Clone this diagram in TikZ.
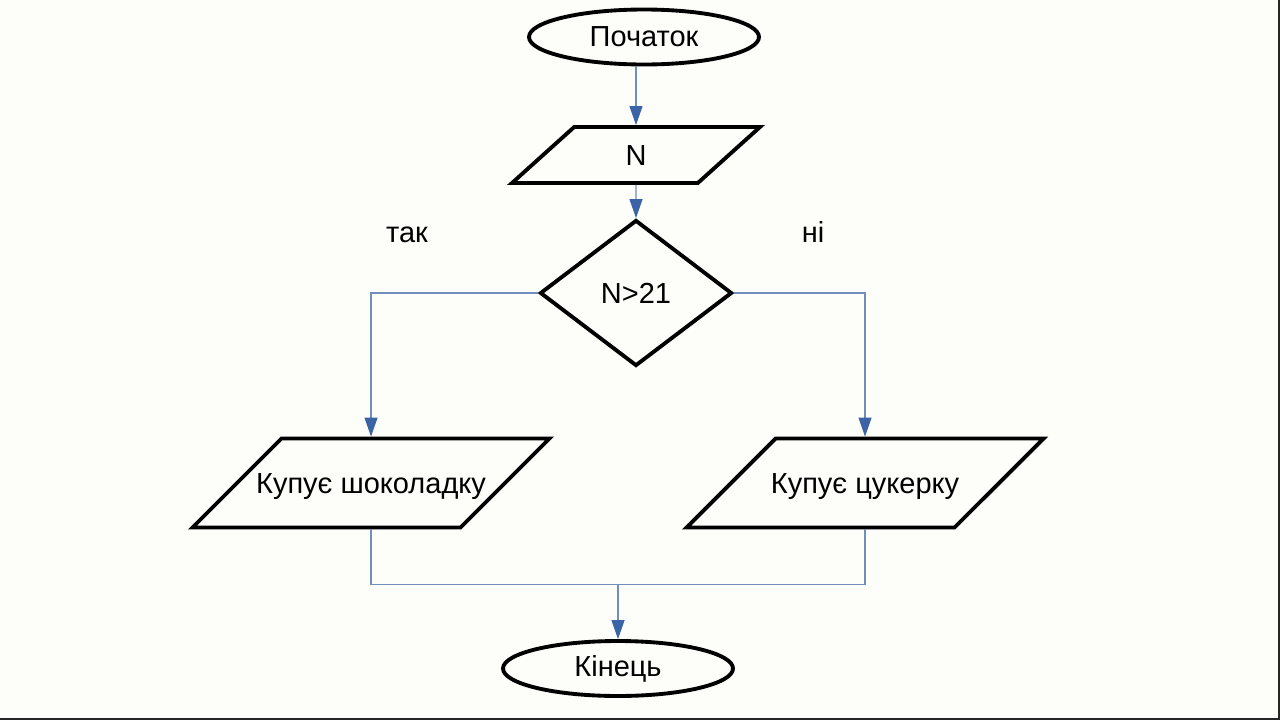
\documentclass[tikz,border=0pt]{standalone}
\usepackage{fontspec}
\setmainfont{Liberation Sans}
\usepackage{xcolor}
\usepackage{tikz}
\usetikzlibrary{shapes.geometric, arrows.meta, positioning}

\definecolor{linkcol}{HTML}{6F8DBD}
\definecolor{tipcol}{HTML}{3A64A6}
\definecolor{bgcol}{HTML}{FDFDFA}

\tikzset{
  box/.style={draw=black, line width=2.2pt, inner sep=0pt, font=\fontsize{16.5}{19}\selectfont},
  startstop/.style={box, ellipse, minimum width=4.6cm, minimum height=1.1cm},
  io/.style={box, trapezium, trapezium stretches body, trapezium left angle=#1, trapezium right angle=180-#1,
    text height=0.52cm, text depth=0.1cm, inner xsep=0pt},
  wide/.style={io=45, minimum width=7.14cm, inner ysep=0.58cm, inner xsep=-0.6cm},
  decision/.style={box, diamond, minimum width=3.84cm, minimum height=2.92cm},
  line/.style={draw=linkcol, line width=0.6pt},
  arr/.style={line, -{Triangle[length=0.38cm, width=0.26cm, color=tipcol]}},
  answer/.style={font=\fontsize{16.5}{19}\selectfont}
}

\begin{document}
\begin{tikzpicture}[node distance=2cm, on grid]
        \fill[bgcol] (0,0) rectangle (25.6,-14.4);
        \useasboundingbox (0,0) rectangle (25.6,-14.4);
        \draw[black!85, line width=0.05cm] (25.58,0) -- (25.58,-14.38) -- (0,-14.38);

        \node[startstop] (start) at (12.88,-0.74) {Початок};
        \node[io=42, minimum width=4.96cm, inner ysep=0.25cm] (inp) [below left=2.36cm and 0.16cm of start] {N};
        \node[decision] (dec) [below=2.76cm of inp] {N>21};
        \node[wide] (choc) [below left=3.8cm and 5.3cm of dec] {Купує шоколадку};
        \node[wide] (candy) [below right=3.8cm and 4.58cm of dec] {Купує цукерку};
        \node[startstop, yshift=-0.03cm] (end) [below left=7.48cm and 0.36cm of dec] {Кінець};

        \node[answer] (yes) [above left=1.17cm and 4.58cm of dec] {так};
        \node[answer] (no) [above right=1.22cm and 3.54cm of dec] {ні};

        \coordinate[above=1.1cm of end.north] (join);

        \draw[arr] (start.south -| inp.north) -- (inp.north);
        \draw[arr] (inp.south) -- (dec.north);
        \draw[arr] (dec.west) -| (choc.north);
        \draw[arr] (dec.east) -| (candy.north);
        \draw[line] (choc.south) |- (join) -| (candy.south);
        \draw[arr] (join) -- (end.north);
    \end{tikzpicture}
\end{document}
